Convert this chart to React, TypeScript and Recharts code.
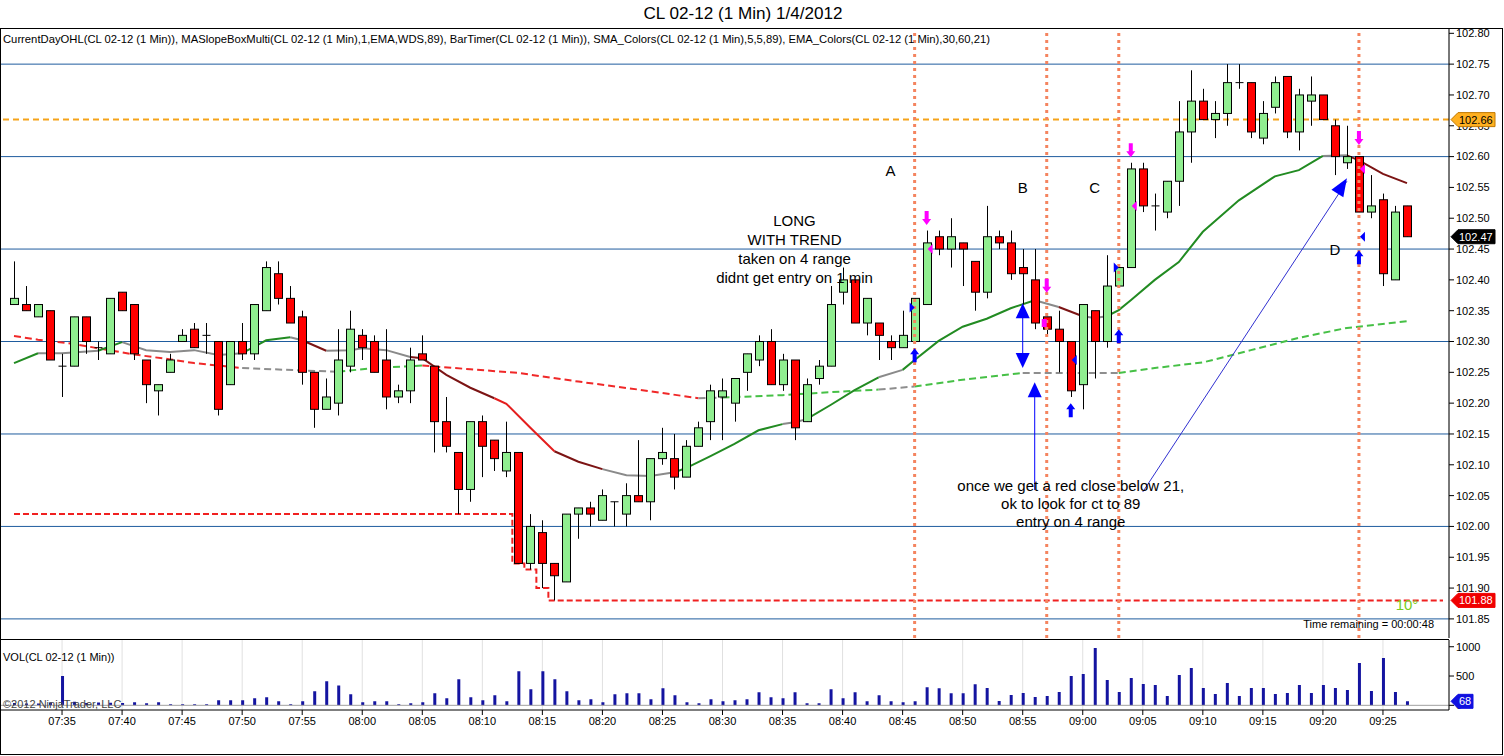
import React from "react";
import {
  Bar,
  CartesianGrid,
  ComposedChart,
  Line,
  ReferenceDot,
  ReferenceLine,
  XAxis,
  YAxis,
} from "recharts";

const FONT = '"Liberation Sans", Arial, sans-serif';
const W = 1504;

// one slot per minute, 07:31 .. 09:30 (the last three stay empty like on screen)
const minutes: string[] = [];
for (let m = 7 * 60 + 31; m <= 9 * 60 + 30; m++) {
  const h = Math.floor(m / 60);
  minutes.push(`${String(h).padStart(2, "0")}:${String(m % 60).padStart(2, "0")}`);
}

const timeTicks = [
  "07:35", "07:40", "07:45", "07:50", "07:55", "08:00", "08:05", "08:10", "08:15", "08:20", "08:25", "08:30",
  "08:35", "08:40", "08:45", "08:50", "08:55", "09:00", "09:05", "09:10", "09:15", "09:20", "09:25",
];
const priceTicks = [
  101.85, 101.9, 101.95, 102, 102.05, 102.1, 102.15, 102.2, 102.25, 102.3,
  102.35, 102.4, 102.45, 102.5, 102.55, 102.6, 102.65, 102.7, 102.75, 102.8,
];
const gridLevels = [101.85, 102, 102.15, 102.3, 102.45, 102.6, 102.75];
const volTicks = [0, 500, 1000];

// 1 min bars 07:31 .. 09:27
const opens = [
  102.36, 102.36, 102.34, 102.35, 102.26, 102.26, 102.34, 102.29, 102.28, 102.38,
  102.36, 102.27, 102.22, 102.25, 102.3, 102.32, 102.31, 102.3, 102.23, 102.3,
  102.28, 102.35, 102.41, 102.37, 102.34, 102.25, 102.19, 102.2, 102.26, 102.31,
  102.3, 102.27, 102.21, 102.22, 102.28, 102.26, 102.17, 102.12, 102.06, 102.17,
  102.14, 102.09, 102.12, 101.94, 101.99, 101.94, 101.91, 102.02, 102.03, 102.01,
  102.04, 102.02, 102.05, 102.04, 102.11, 102.11, 102.08, 102.13, 102.17, 102.21,
  102.2, 102.25, 102.27, 102.3, 102.23, 102.27, 102.17, 102.24, 102.26, 102.38,
  102.4, 102.33, 102.33, 102.3, 102.29, 102.3, 102.36, 102.47, 102.45, 102.46,
  102.43, 102.38, 102.47, 102.46, 102.42, 102.4, 102.34, 102.32, 102.3, 102.23,
  102.35, 102.3, 102.39, 102.42, 102.58, 102.52, 102.51, 102.56, 102.64, 102.69,
  102.66, 102.67, 102.72, 102.72, 102.63, 102.68, 102.73, 102.64, 102.69, 102.7,
  102.65, 102.59, 102.6, 102.51, 102.53, 102.4, 102.52,
];
const highs = [
  102.43, 102.39, 102.36, 102.35, 102.28, 102.34, 102.34, 102.3, 102.37, 102.38,
  102.36, 102.27, 102.23, 102.28, 102.32, 102.33, 102.33, 102.3, 102.3, 102.33,
  102.36, 102.43, 102.43, 102.39, 102.35, 102.25, 102.24, 102.32, 102.35, 102.32,
  102.31, 102.32, 102.23, 102.29, 102.31, 102.26, 102.21, 102.12, 102.17, 102.18,
  102.14, 102.17, 102.12, 102.02, 102.01, 101.94, 102.02, 102.03, 102.04, 102.06,
  102.04, 102.07, 102.14, 102.11, 102.16, 102.15, 102.14, 102.17, 102.23, 102.24,
  102.24, 102.28, 102.31, 102.32, 102.28, 102.27, 102.24, 102.27, 102.39, 102.42,
  102.4, 102.37, 102.33, 102.31, 102.35, 102.37, 102.48, 102.48, 102.5, 102.46,
  102.43, 102.52, 102.48, 102.48, 102.45, 102.45, 102.34, 102.35, 102.3, 102.36,
  102.35, 102.44, 102.42, 102.59, 102.59, 102.54, 102.56, 102.69, 102.74, 102.71,
  102.69, 102.75, 102.75, 102.72, 102.69, 102.73, 102.73, 102.71, 102.73, 102.7,
  102.66, 102.65, 102.6, 102.57, 102.54, 102.52, 102.52,
];
const lows = [
  102.36, 102.35, 102.34, 102.27, 102.21, 102.26, 102.28, 102.27, 102.28, 102.35,
  102.27, 102.2, 102.18, 102.25, 102.3, 102.29, 102.28, 102.18, 102.23, 102.27,
  102.27, 102.35, 102.36, 102.33, 102.23, 102.16, 102.19, 102.18, 102.25, 102.27,
  102.25, 102.19, 102.2, 102.2, 102.27, 102.12, 102.12, 102.02, 102.04, 102.08,
  102.09, 102.08, 101.94, 101.93, 101.9, 101.88, 101.91, 101.98, 102.0, 102.01,
  102.0, 102.0, 102.04, 102.01, 102.1, 102.06, 102.08, 102.13, 102.14, 102.14,
  102.17, 102.22, 102.26, 102.23, 102.22, 102.14, 102.17, 102.23, 102.26, 102.36,
  102.33, 102.31, 102.27, 102.27, 102.29, 102.3, 102.36, 102.44, 102.42, 102.39,
  102.35, 102.37, 102.45, 102.4, 102.36, 102.32, 102.31, 102.25, 102.21, 102.19,
  102.24, 102.29, 102.39, 102.42, 102.51, 102.48, 102.5, 102.52, 102.59, 102.66,
  102.63, 102.65, 102.71, 102.63, 102.62, 102.67, 102.63, 102.61, 102.65, 102.66,
  102.57, 102.58, 102.51, 102.5, 102.39, 102.4, 102.47,
];
const closes = [
  102.37, 102.35, 102.36, 102.27, 102.26, 102.34, 102.3, 102.29, 102.37, 102.35,
  102.28, 102.23, 102.23, 102.27, 102.31, 102.29, 102.31, 102.19, 102.3, 102.28,
  102.36, 102.42, 102.37, 102.33, 102.25, 102.19, 102.21, 102.27, 102.32, 102.29,
  102.25, 102.21, 102.22, 102.27, 102.27, 102.17, 102.13, 102.06, 102.17, 102.13,
  102.11, 102.12, 101.94, 102.0, 101.94, 101.92, 102.02, 102.03, 102.02, 102.05,
  102.04, 102.05, 102.04, 102.11, 102.12, 102.08, 102.13, 102.16, 102.22, 102.22,
  102.24, 102.28, 102.3, 102.23, 102.27, 102.16, 102.23, 102.26, 102.36, 102.4,
  102.33, 102.37, 102.31, 102.29, 102.31, 102.37, 102.46, 102.45, 102.47, 102.45,
  102.38, 102.47, 102.46, 102.41, 102.41, 102.33, 102.32, 102.3, 102.22, 102.36,
  102.3, 102.39, 102.42, 102.58, 102.52, 102.52, 102.56, 102.64, 102.69, 102.66,
  102.67, 102.72, 102.72, 102.64, 102.67, 102.72, 102.64, 102.7, 102.7, 102.66,
  102.6, 102.6, 102.51, 102.52, 102.41, 102.51, 102.47,
];
const volumes = [
  40, 30, 30, 50, 500, 60, 40, 50, 45, 40,
  51, 34, 51, 17, 17, 17, 17, 85, 85, 85,
  120, 136, 68, 17, 68, 240, 410, 340, 190, 51,
  68, 68, 17, 34, 51, 205, 120, 443, 136, 85,
  170, 68, 580, 273, 580, 443, 240, 85, 102, 51,
  190, 205, 205, 102, 290, 170, 51, 34, 102, 68,
  85, 102, 222, 136, 120, 222, 34, 34, 273, 120,
  222, 68, 170, 68, 51, 68, 307, 290, 205, 205,
  358, 295, 74, 176, 210, 142, 159, 227, 500, 534,
  977, 432, 227, 466, 364, 347, 159, 517, 636, 295,
  193, 381, 159, 295, 295, 193, 210, 347, 210, 347,
  295, 261, 722, 244, 807, 227, 68,
];

type Run = [string, number][];

// EMA 21, coloured by slope
const emaGreen: Run[] = [
  [["07:31", 102.265], ["07:33", 102.281]],
  [["07:38", 102.285], ["07:40", 102.299]],
  [["07:50", 102.281], ["07:52", 102.302], ["07:54", 102.307]],
  [["08:26", 102.088], ["08:27", 102.095], ["08:29", 102.114], ["08:31", 102.134], ["08:33", 102.156], ["08:35", 102.166]],
  [["08:37", 102.174], ["08:39", 102.197], ["08:41", 102.221], ["08:43", 102.242]],
  [["08:45", 102.254], ["08:46", 102.27], ["08:48", 102.301], ["08:50", 102.324], ["08:52", 102.337], ["08:54", 102.354], ["08:56", 102.367]],
  [["09:02", 102.341], ["09:03", 102.351], ["09:04", 102.367], ["09:06", 102.4], ["09:08", 102.429], ["09:10", 102.478], ["09:13", 102.529], ["09:16", 102.568], ["09:18", 102.578], ["09:20", 102.601]],
];
const emaGray: Run[] = [
  [["07:33", 102.281], ["07:35", 102.281], ["07:38", 102.285]],
  [["07:40", 102.299], ["07:42", 102.286], ["07:44", 102.283], ["07:46", 102.286], ["07:48", 102.278], ["07:50", 102.281]],
  [["07:54", 102.307], ["07:55", 102.302]],
  [["07:57", 102.285], ["07:59", 102.286], ["08:00", 102.289], ["08:02", 102.286], ["08:04", 102.275]],
  [["08:20", 102.093], ["08:22", 102.083], ["08:24", 102.082], ["08:26", 102.088]],
  [["08:35", 102.166], ["08:36", 102.169], ["08:37", 102.174]],
  [["08:43", 102.242], ["08:45", 102.254]],
  [["08:56", 102.367], ["08:58", 102.356]],
  [["09:00", 102.341], ["09:01", 102.338], ["09:02", 102.341]],
  [["09:20", 102.601], ["09:22", 102.602]],
];
const emaDarkRed: Run[] = [
  [["07:55", 102.302], ["07:57", 102.285]],
  [["08:04", 102.275], ["08:05", 102.273], ["08:07", 102.246], ["08:09", 102.225], ["08:11", 102.208]],
  [["08:16", 102.122], ["08:18", 102.105], ["08:20", 102.093]],
  [["08:58", 102.356], ["09:00", 102.341]],
  [["09:22", 102.602], ["09:23", 102.594], ["09:25", 102.572], ["09:27", 102.557]],
];
const emaRed: Run[] = [
  [["08:11", 102.208], ["08:12", 102.199], ["08:14", 102.16], ["08:16", 102.122]],
];

// SMA 89 (dashed), coloured by slope
const smaRed: Run[] = [
  [["07:31", 102.309], ["07:33", 102.303], ["07:36", 102.296], ["07:38", 102.289], ["07:41", 102.279], ["07:44", 102.271], ["07:46", 102.265], ["07:50", 102.257]],
  [["08:05", 102.261], ["08:09", 102.255], ["08:13", 102.249], ["08:18", 102.235], ["08:23", 102.222], ["08:28", 102.208]],
];
const smaGray: Run[] = [
  [["07:50", 102.257], ["07:55", 102.253], ["07:58", 102.251]],
  [["08:28", 102.208], ["08:30", 102.209]],
  [["08:43", 102.222], ["08:46", 102.227]],
  [["08:55", 102.249], ["09:03", 102.249]],
];
const smaGreen: Run[] = [
  [["07:58", 102.251], ["08:01", 102.257], ["08:05", 102.261]],
  [["08:30", 102.209], ["08:35", 102.213], ["08:40", 102.219], ["08:43", 102.222]],
  [["08:46", 102.227], ["08:50", 102.238], ["08:55", 102.249]],
  [["09:03", 102.249], ["09:06", 102.257], ["09:10", 102.266], ["09:14", 102.286], ["09:18", 102.306], ["09:22", 102.322], ["09:27", 102.333]],
];

// current day low, as steps
const dayLowSteps: [string, number][] = [
  ["07:31", 102.02], ["08:13", 101.94], ["08:14", 101.93], ["08:15", 101.9], ["08:16", 101.88],
];
const dayOpen = 102.66;
const lastPrice = 102.47;
const dayLow = 101.88;
const lastVolume = 68;

const signalTimes = ["08:46", "08:57", "09:03", "09:23"];
const letters: [string, string, number][] = [
  ["A", "08:44", 102.578], ["B", "08:55", 102.551], ["C", "09:01", 102.551], ["D", "09:21", 102.45],
];
const upArrows: [string, number][] = [["08:46", 102.289], ["08:59", 102.2], ["09:03", 102.32], ["09:23", 102.448]];
const downArrows: [string, number][] = [["08:47", 102.489], ["08:57", 102.379], ["09:04", 102.599], ["09:23", 102.619]];
const blueRight: [string, number][] = [["08:46", 102.355], ["09:03", 102.42]];
const blueLeft: [string, number][] = [["08:59", 102.27], ["09:23", 102.47]];
const pinkLeft: [string, number][] = [["08:47", 102.45], ["09:04", 102.52], ["09:23", 102.58]];
const pinkSquare: [string, number][] = [["08:57", 102.33]];

const longNote = ["LONG", "WITH TREND", "taken on 4 range", "didnt get entry on 1 min"];
const ctNote = ["once we get a red close below 21,", "ok to look for ct to 89", "entry on 4 range"];

// ---- build the table ----
const rows: Record<string, any>[] = minutes.map((t, i) => {
  const r: Record<string, any> = { t };
  if (i < opens.length) {
    r.open = opens[i];
    r.high = highs[i];
    r.low = lows[i];
    r.close = closes[i];
    r.range = [lows[i], highs[i]];
    r.vol = volumes[i];
  }
  return r;
});

dayLowSteps.forEach(([from, v], k) => {
  const start = minutes.indexOf(from);
  const end = k + 1 < dayLowSteps.length ? minutes.indexOf(dayLowSteps[k + 1][0]) : minutes.length;
  for (let i = start; i < end; i++) rows[i].dayLow = v;
});

const lineSeries: { key: string; color: string; dashed: boolean }[] = [];
function addRuns(runs: Run[], name: string, color: string, dashed: boolean) {
  runs.forEach((run, k) => {
    const key = `${name}${k}`;
    run.forEach(([t, v]) => {
      rows[minutes.indexOf(t)][key] = v;
    });
    lineSeries.push({ key, color, dashed });
  });
}
addRuns(smaRed, "smaR", "#f02828", true);
addRuns(smaGray, "smaG", "#8e8e8e", true);
addRuns(smaGreen, "smaU", "#46c046", true);
addRuns(emaGray, "emaG", "#8a8a8a", false);
addRuns(emaDarkRed, "emaD", "#7c1414", false);
addRuns(emaRed, "emaR", "#e41e1e", false);
addRuns(emaGreen, "emaU", "#228b22", false);

// ---- shapes ----
function Candle(props: any) {
  const { x, y, width, height, payload } = props;
  if (!payload || payload.open == null) return null;
  const { open, close, high, low } = payload;
  const top = Math.min(y, y + height);
  const h = Math.abs(height);
  const k = high > low ? h / (high - low) : 0;
  const py = (v: number) => top + (high - v) * k;
  const left = Math.round(x) + 0.5;
  const bw = width - 1;
  const cx = left + bw / 2;
  const bodyTop = py(Math.max(open, close));
  const bodyBot = py(Math.min(open, close));
  return (
    <g>
      <line x1={cx} x2={cx} y1={top} y2={top + h} stroke="#000" />
      {open === close ? (
        <line x1={left} x2={left + bw} y1={bodyTop} y2={bodyTop} stroke="#000" />
      ) : (
        <rect
          x={left}
          y={bodyTop}
          width={bw}
          height={Math.max(1, bodyBot - bodyTop)}
          fill={close > open ? "#90ee90" : "#ff0000"}
          stroke="#000"
        />
      )}
    </g>
  );
}

function PriceTag(props: any) {
  const { viewBox, text, fill, textColor, stroke, w = 44 } = props;
  if (!viewBox) return null;
  const x0 = viewBox.x + viewBox.width + 2;
  const y = viewBox.y;
  const pts = `${x0},${y} ${x0 + 7},${y - 7} ${x0 + w},${y - 7} ${x0 + w},${y + 7} ${x0 + 7},${y + 7}`;
  return (
    <g>
      <polygon points={pts} fill={fill} stroke={stroke} />
      <text x={x0 + 8} y={y + 4} fontSize={11} fill={textColor} fontFamily={FONT}>
        {text}
      </text>
    </g>
  );
}

const upBlock = (color: string) => (p: any) => (
  <polygon
    points={`${p.cx},${p.cy} ${p.cx + 4.5},${p.cy + 6} ${p.cx + 2},${p.cy + 6} ${p.cx + 2},${p.cy + 14} ${p.cx - 2},${p.cy + 14} ${p.cx - 2},${p.cy + 6} ${p.cx - 4.5},${p.cy + 6}`}
    fill={color}
  />
);
const downBlock = (color: string) => (p: any) => (
  <polygon
    points={`${p.cx},${p.cy} ${p.cx + 4.5},${p.cy - 6} ${p.cx + 2},${p.cy - 6} ${p.cx + 2},${p.cy - 14} ${p.cx - 2},${p.cy - 14} ${p.cx - 2},${p.cy - 6} ${p.cx - 4.5},${p.cy - 6}`}
    fill={color}
  />
);
const rightTri = (color: string) => (p: any) => (
  <polygon points={`${p.cx},${p.cy} ${p.cx - 5},${p.cy - 5} ${p.cx - 5},${p.cy + 5}`} fill={color} />
);
const leftTri = (color: string) => (p: any) => (
  <polygon points={`${p.cx + 1},${p.cy} ${p.cx + 6},${p.cy - 5} ${p.cx + 6},${p.cy + 5}`} fill={color} />
);
const squareMark = (color: string) => (p: any) => (
  <rect x={p.cx - 5} y={p.cy - 4} width={5} height={8} fill={color} />
);
const headUp = (p: any) => (
  <polygon points={`${p.cx},${p.cy} ${p.cx + 7},${p.cy + 15} ${p.cx - 7},${p.cy + 15}`} fill="#0000ff" />
);
const headDown = (p: any) => (
  <polygon points={`${p.cx},${p.cy} ${p.cx + 7},${p.cy - 15} ${p.cx - 7},${p.cy - 15}`} fill="#0000ff" />
);
const headSlant = (p: any) => (
  <polygon points="0,0 -18,-7 -18,7" fill="#0000ff" transform={`translate(${p.cx},${p.cy}) rotate(-58)`} />
);
const note = (lines: string[], size: number, color: string, gap: number) => (p: any) => (
  <text x={p.cx} y={p.cy} textAnchor="middle" fontSize={size} fill={color} fontFamily={FONT} dominantBaseline="central">
    {lines.map((s, i) => (
      <tspan key={i} x={p.cx} dy={i === 0 ? 0 : gap}>
        {s}
      </tspan>
    ))}
  </text>
);

const axisTick = { fontSize: 11, fill: "#000", fontFamily: FONT };

export default function App() {
  return (
    <div
      style={{
        position: "absolute",
        left: 0,
        top: 0,
        width: W,
        height: 756,
        background: "#fff",
        fontFamily: FONT,
        overflow: "hidden",
      }}
    >
      <div style={{ position: "absolute", left: 0, top: 0 }}>
        <ComposedChart width={W} height={639} data={rows} margin={{ top: 29, right: 0, bottom: 0, left: 0 }}>
          <CartesianGrid horizontal={false} stroke="#e0e0e0" />
          <CartesianGrid vertical={false} horizontalValues={gridLevels} stroke="#1f5c9e" />
          <XAxis
            dataKey="t"
            ticks={timeTicks}
            interval={0}
            padding={{ left: 8, right: 0 }}
            height={1}
            tick={false}
            tickLine={false}
            axisLine={false}
          />
          <YAxis
            orientation="right"
            type="number"
            width={55}
            domain={[101.819, 102.807]}
            allowDataOverflow
            ticks={priceTicks}
            interval={0}
            tickFormatter={(v: number) => v.toFixed(2)}
            tick={axisTick}
            tickLine={{ stroke: "#000" }}
            axisLine={{ stroke: "#000" }}
            tickSize={5}
          />
          <ReferenceLine
            y={dayOpen}
            stroke="#f5a31a"
            strokeWidth={2}
            strokeDasharray="6 4"
            zIndex={100}
          />
          <Line
            dataKey="dayLow"
            type="step"
            stroke="#f02020"
            strokeWidth={2}
            strokeDasharray="6 3"
            dot={false}
            isAnimationActive={false}
            zIndex={400}
          />
          {lineSeries.map((s) => (
            <Line
              key={s.key}
              dataKey={s.key}
              stroke={s.color}
              strokeWidth={2}
              strokeDasharray={s.dashed ? "7 4" : undefined}
              dot={false}
              connectNulls
              isAnimationActive={false}
              zIndex={400}
            />
          ))}
          <Bar
            dataKey="range"
            barSize={9}
            shape={(p: any) => <Candle {...p} />}
            isAnimationActive={false}
            zIndex={450}
          />
          {signalTimes.map((t) => (
            <ReferenceLine key={t} x={t} stroke="#f4845f" strokeWidth={3} strokeDasharray="3 4" zIndex={500} />
          ))}
          <ReferenceLine
            y={dayOpen}
            stroke="transparent"
            zIndex={2500}
            label={<PriceTag text={dayOpen.toFixed(2)} fill="#ffb020" textColor="#000" stroke="#c07800" />}
          />
          <ReferenceLine
            y={lastPrice}
            stroke="transparent"
            zIndex={2500}
            label={<PriceTag text={lastPrice.toFixed(2)} fill="#000" textColor="#fff" stroke="#000" />}
          />
          <ReferenceLine
            y={dayLow}
            stroke="transparent"
            zIndex={2500}
            label={<PriceTag text={dayLow.toFixed(2)} fill="#f00000" textColor="#fff" stroke="#f00000" />}
          />

          {/* drawn annotations */}
          <ReferenceLine segment={[{ x: "08:55", y: 102.35 }, { x: "08:55", y: 102.27 }]} stroke="#0000ff" zIndex={600} />
          <ReferenceDot x="08:55" y={102.362} shape={headUp} zIndex={600} />
          <ReferenceDot x="08:55" y={102.257} shape={headDown} zIndex={600} />
          <ReferenceLine segment={[{ x: "08:56", y: 102.059 }, { x: "08:56", y: 102.22 }]} stroke="#0000ff" zIndex={600} />
          <ReferenceDot x="08:56" y={102.234} shape={headUp} zIndex={600} />
          <ReferenceLine segment={[{ x: "09:05", y: 102.056 }, { x: "09:22", y: 102.56 }]} stroke="#3030d0" zIndex={600} />
          <ReferenceDot x="09:22" y={102.565} shape={headSlant} zIndex={600} />
          {upArrows.map(([t, v], i) => (
            <ReferenceDot key={`u${i}`} x={t} y={v} shape={upBlock("#0000ff")} zIndex={600} />
          ))}
          {downArrows.map(([t, v], i) => (
            <ReferenceDot key={`d${i}`} x={t} y={v} shape={downBlock("#ff00ff")} zIndex={600} />
          ))}
          {blueRight.map(([t, v], i) => (
            <ReferenceDot key={`br${i}`} x={t} y={v} shape={rightTri("#0000ff")} zIndex={600} />
          ))}
          {blueLeft.map(([t, v], i) => (
            <ReferenceDot key={`bl${i}`} x={t} y={v} shape={leftTri("#0000ff")} zIndex={600} />
          ))}
          {pinkLeft.map(([t, v], i) => (
            <ReferenceDot key={`pl${i}`} x={t} y={v} shape={leftTri("#ff00ff")} zIndex={600} />
          ))}
          {pinkSquare.map(([t, v], i) => (
            <ReferenceDot key={`ps${i}`} x={t} y={v} shape={squareMark("#ff00ff")} zIndex={600} />
          ))}
          {letters.map(([s, t, v]) => (
            <ReferenceDot key={s} x={t} y={v} shape={note([s], 15, "#000", 0)} zIndex={600} />
          ))}
          <ReferenceDot x="08:36" y={102.497} shape={note(longNote, 15, "#000", 19)} zIndex={600} />
          <ReferenceDot x="08:59" y={102.067} shape={note(ctNote, 15, "#000", 18)} zIndex={600} />
          <ReferenceDot x="09:27" y={101.874} shape={note(["10°"], 15, "#77cc22", 0)} zIndex={600} />
        </ComposedChart>
      </div>

      <div style={{ position: "absolute", left: 0, top: 639 }}>
        <ComposedChart width={W} height={117} data={rows} margin={{ top: 1, right: 0, bottom: 16, left: 0 }}>
          <CartesianGrid horizontal={false} stroke="#e0e0e0" />
          <XAxis
            dataKey="t"
            ticks={timeTicks}
            interval={0}
            padding={{ left: 8, right: 0 }}
            height={30}
            tick={axisTick}
            tickLine={{ stroke: "#000" }}
            axisLine={{ stroke: "#000" }}
            tickSize={5}
          />
          <YAxis
            orientation="right"
            type="number"
            width={55}
            domain={[-80, 1115]}
            allowDataOverflow
            ticks={volTicks}
            interval={0}
            tick={axisTick}
            tickLine={{ stroke: "#000" }}
            axisLine={{ stroke: "#000" }}
            tickSize={5}
          />
          <ReferenceLine y={0} stroke="#a0a0a0" />
          <Bar dataKey="vol" barSize={3} fill="#1414a0" isAnimationActive={false} />
          <ReferenceLine
            y={lastVolume}
            stroke="transparent"
            zIndex={2500}
            label={<PriceTag text={String(lastVolume)} fill="#1010e0" textColor="#fff" stroke="#1010e0" w={22} />}
          />
        </ComposedChart>
      </div>

      <svg
        width={W}
        height={756}
        style={{ position: "absolute", left: 0, top: 0, pointerEvents: "none" }}
        fontFamily={FONT}
      >
        <text x={743} y={19} textAnchor="middle" fontSize={16} textLength={199} lengthAdjust="spacingAndGlyphs">
          {"CL 02-12 (1 Min)  1/4/2012"}
        </text>
        <rect x={0.5} y={28.5} width={1502} height={726} fill="none" stroke="#000" />
        <line x1={0} x2={1449} y1={639.5} y2={639.5} stroke="#000" />
        <text x={3} y={43} fontSize={11} textLength={987} lengthAdjust="spacingAndGlyphs">
          CurrentDayOHL(CL 02-12 (1 Min)), MASlopeBoxMulti(CL 02-12 (1 Min),1,EMA,WDS,89), BarTimer(CL 02-12 (1 Min)),
          SMA_Colors(CL 02-12 (1 Min),5,5,89), EMA_Colors(CL 02-12 (1 Min),30,60,21)
        </text>
        <text x={1434} y={628} fontSize={11} textAnchor="end">
          Time remaining = 00:00:48
        </text>
        <text x={3} y={661} fontSize={11}>
          VOL(CL 02-12 (1 Min))
        </text>
        <text x={3} y={708} fontSize={11} fill="#444">
          ©2012 NinjaTrader, LLC
        </text>
      </svg>
    </div>
  );
}
